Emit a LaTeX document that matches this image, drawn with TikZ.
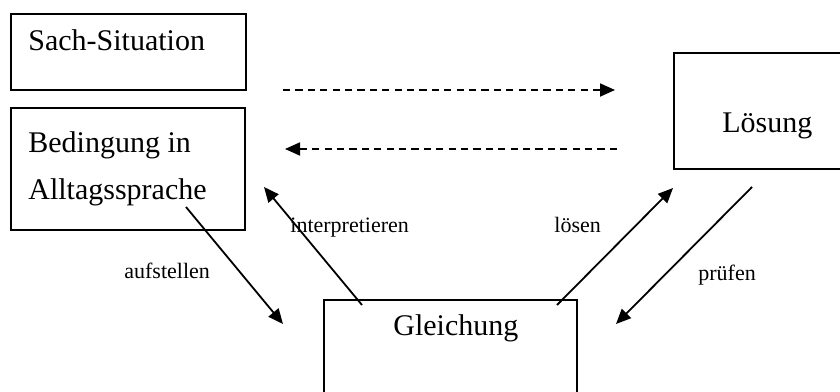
\documentclass[tikz,border=0pt]{standalone}
\usepackage{fontspec}
\setmainfont{Liberation Serif}
\usetikzlibrary{arrows.meta}
\tikzset{
  box/.style={draw, line width=0.9pt, anchor=north west, inner sep=0pt},
  big/.style={font=\fontsize{15}{18}\selectfont, anchor=base west, inner sep=0pt},
  small/.style={font=\fontsize{11}{13}\selectfont, anchor=base west, inner sep=0pt},
  conn/.style={line width=0.9pt, -{Triangle[length=7.5pt,width=6.5pt]}},
  dconn/.style={conn, dash pattern=on 3.6pt off 2.6pt}
}
\begin{document}
\begin{tikzpicture}[x=0.5pt,y=-0.5pt]
\useasboundingbox (0,0) rectangle (840,391);
\clip (0,0) rectangle (840,391);
% boxes
\node[box, minimum width=117.5pt, minimum height=38pt] (sach) at (10,13) {};
\node[box, minimum width=117pt, minimum height=61pt] (bed) at (10,107) {};
\node[box, minimum width=95pt, minimum height=58pt] (loes) at (673,52) {};
\node[box, minimum width=126.5pt, minimum height=62pt] (gl) at (323,299) {};
% texts
\node[big] (tsach) at (28,50) {Sach-Situation};
\node[big] (tbed1) at (28,152) {Bedingung in};
\node[big] (tbed2) at (28,199) {Alltagssprache};
\node[big] (tloes) at (722,132) {Lösung};
\node[big] (tgl) at (393,335) {Gleichung};
% labels
\node[small] (laufst) at (124,278) {aufstellen};
\node[small] (linterp) at (290,232) {interpretieren};
\node[small] (lloesen) at (554,232) {lösen};
\node[small] (lpruef) at (698,280) {prüfen};
% connector end points
\coordinate (d1s) at (283,90);
\coordinate (d1e) at (615,90);
\coordinate (d2s) at (617,149);
\coordinate (d2e) at (285,149);
\coordinate (aufs) at (186,207);
\coordinate (aufe) at (283,324);
\coordinate (ints) at (362,305);
\coordinate (inte) at (264,187);
\coordinate (loss) at (557,305);
\coordinate (lose) at (673,188);
\coordinate (prs) at (752,187);
\coordinate (pre) at (616,324);
% connectors
\draw[dconn] (d1s) -- (d1e);
\draw[dconn] (d2s) -- (d2e);
\draw[conn] (aufs) -- (aufe);
\draw[conn] (ints) -- (inte);
\draw[conn] (loss) -- (lose);
\draw[conn] (prs) -- (pre);
\end{tikzpicture}
\end{document}
